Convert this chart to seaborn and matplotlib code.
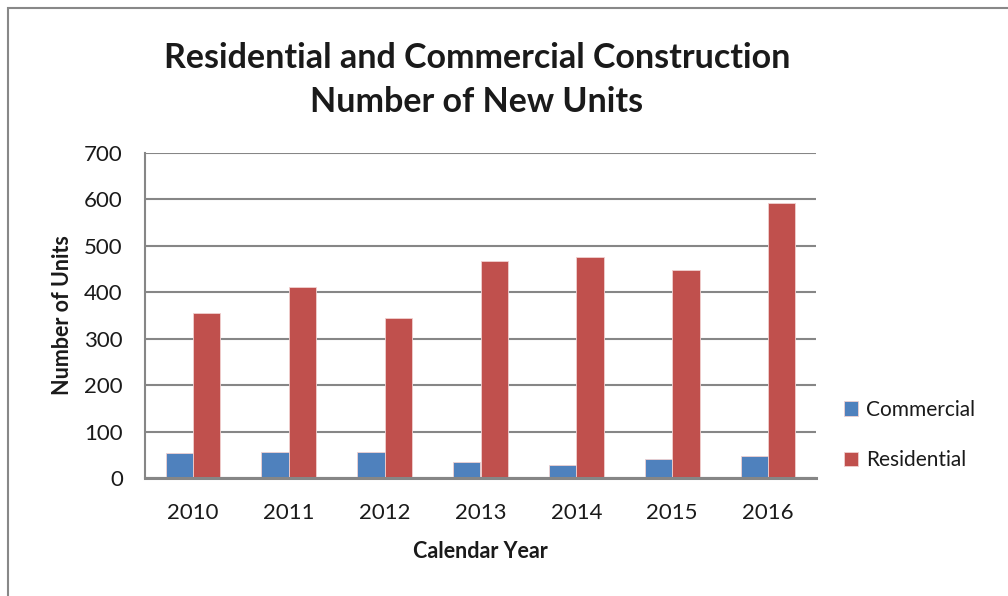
import matplotlib
matplotlib.use("Agg")
import matplotlib.pyplot as plt
import matplotlib.patches as mpatches
import seaborn as sns
import pandas as pd

years = ["2010", "2011", "2012", "2013", "2014", "2015", "2016"]
commercial = [53, 55, 57, 35, 29, 42, 48]
residential = [356, 411, 345, 468, 475, 449, 593]
series_names = ["Commercial", "Residential"]
y_ticks = [0, 100, 200, 300, 400, 500, 600, 700]

df = pd.DataFrame({
    "Year": years * 2,
    "Units": commercial + residential,
    "Type": [series_names[0]] * len(years) + [series_names[1]] * len(years),
})

sns.set_theme(style="white")
plt.rcParams["font.family"] = ["Lato", "DejaVu Sans"]

fig = plt.figure(figsize=(10.08, 5.96), dpi=100)
ax = fig.add_axes([145/1008, 1 - 478/596, (816-145)/1008, (478-153)/596])

grid_c = "#868686"
txt_c = "#1a1a1a"
sns.barplot(data=df, x="Year", y="Units", hue="Type", order=years,
            hue_order=series_names, palette=["#4F81BD", "#C0504D"],
            width=0.57, gap=0, saturation=1, edgecolor="#f0d0d0",
            linewidth=0.6, ax=ax, legend=True)

ax.set_ylim(0, 700)
ax.set_xlim(-0.5, 6.5)
ax.set_yticks(y_ticks)
ax.set_yticklabels([str(t) for t in y_ticks], fontsize=16, color=txt_c)
ax.tick_params(axis="x", labelsize=16, colors=txt_c, length=0, pad=18)
ax.tick_params(axis="y", length=6, width=1.5, color=grid_c, direction="out", pad=10)
ax.yaxis.grid(True, color=grid_c, linewidth=1.5)
ax.set_axisbelow(True)
for s in ["top", "right"]:
    ax.spines[s].set_visible(False)
ax.spines["left"].set_color(grid_c)
ax.spines["left"].set_linewidth(1.5)
ax.spines["bottom"].set_color(grid_c)
ax.spines["bottom"].set_linewidth(2.2)

ax.set_xlabel("Calendar Year", fontsize=15.5, fontweight="bold", color=txt_c, labelpad=13)
ax.set_ylabel("Number of Units", fontsize=15.5, fontweight="bold", color=txt_c, labelpad=8)

fig.text(477/1008, 1 - 80/596, "Residential and Commercial Construction\nNumber of New Units",
         ha="center", va="center", fontsize=24.5, fontweight="bold", color=txt_c,
         linespacing=1.5)

handles, labels = ax.get_legend_handles_labels()
ax.legend(handles, labels, loc="center left", bbox_to_anchor=(825/1008, 1 - 435/596),
          bbox_transform=fig.transFigure, frameon=False, fontsize=15,
          handlelength=0.7, handleheight=0.7, handletextpad=0.35, labelspacing=1.45,
          labelcolor=txt_c)

border = mpatches.Rectangle((8/1008, -0.1), 1.2, 1 - 8/596 + 0.1, transform=fig.transFigure,
                            fill=False, edgecolor="#888888", linewidth=1.5)
fig.patches.append(border)

fig.savefig("out.png", dpi=100)
